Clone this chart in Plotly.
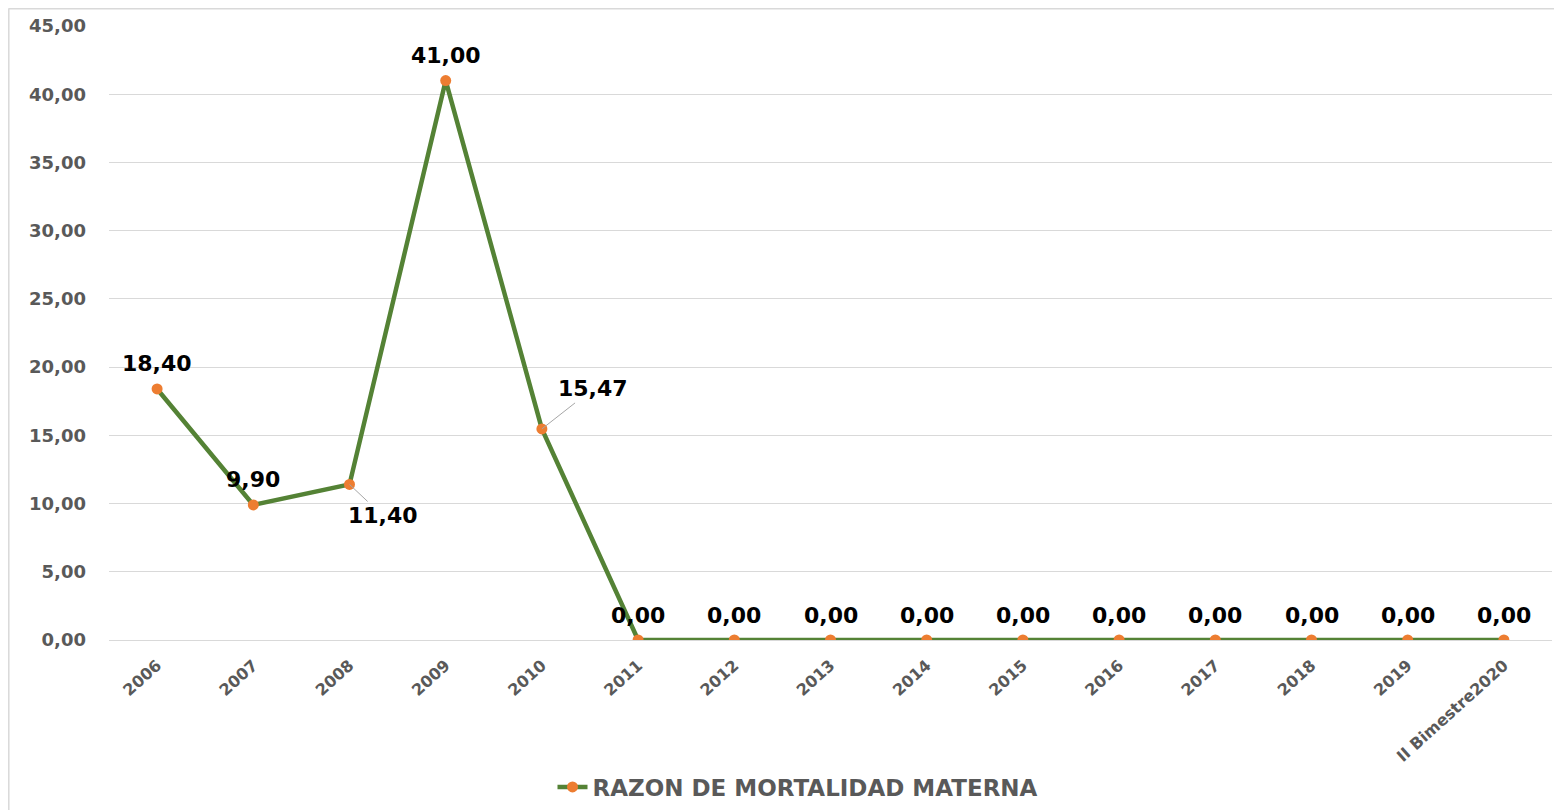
import plotly.graph_objects as go

categories = ["2006", "2007", "2008", "2009", "2010", "2011", "2012", "2013",
              "2014", "2015", "2016", "2017", "2018", "2019", "II Bimestre2020"]
values = [18.40, 9.90, 11.40, 41.00, 15.47, 0, 0, 0, 0, 0, 0, 0, 0, 0, 0]
series_name = "RAZON DE MORTALIDAD MATERNA"
y_ticks = [0, 5, 10, 15, 20, 25, 30, 35, 40, 45]

# label offsets (px) for labels with leader lines
label_offsets = {2: (33, 31), 4: (51, -40)}

FONT = "DejaVu Sans"
W, H = 1554, 802
ML, MR, MT, MB = 101, 10, 18, 170
PW, PH = W - ML - MR, H - MT - MB

fig = go.Figure()
fig.add_trace(go.Scatter(
    x=categories, y=values, mode="lines+markers", name=series_name,
    line=dict(color="#548235", width=4.5),
    marker=dict(color="#ED7D31", size=11),
))

def fmt(v):
    return f"{v:.2f}".replace(".", ",")

for i, v in enumerate(values):
    font = dict(family=FONT, size=22, color="black", weight="bold")
    if i in label_offsets:
        dx, dy = label_offsets[i]
        fig.add_annotation(x=i, y=v, text=fmt(v), showarrow=True, arrowhead=0,
                           arrowwidth=1, arrowcolor="#A6A6A6", ax=dx, ay=dy,
                           standoff=0, font=font)
    else:
        fig.add_annotation(x=i, y=v, text=fmt(v), showarrow=False, yshift=25, font=font)

def px(xp):
    return (xp - ML) / PW

def py(yp):
    return (H - MB - yp) / PH

border = dict(color="#D9D9D9", width=1.5)
fig.add_shape(type="line", xref="paper", yref="paper", x0=px(0.5), x1=px(W),
              y0=py(0.8), y1=py(0.8), line=border)
fig.add_shape(type="line", xref="paper", yref="paper", x0=px(0.8), x1=px(0.8),
              y0=py(0.5), y1=py(H), line=border)

fig.update_layout(
    width=W, height=H,
    margin=dict(l=ML, r=MR, t=MT, b=MB, autoexpand=False),
    paper_bgcolor="white", plot_bgcolor="white",
    separators=",.",
    showlegend=True,
    legend=dict(orientation="h", x=px(790), xanchor="center",
                yref="container", y=1 - 779 / H, yanchor="middle",
                font=dict(family=FONT, size=23, color="#595959", weight="bold")),
    xaxis=dict(type="category", tickangle=-42, showgrid=False, showline=False,
               ticks="", ticklabelstandoff=12, automargin=False,
               tickfont=dict(family=FONT, size=16, color="#595959", weight="bold"),
               range=[-0.5, len(categories) - 0.5]),
    yaxis=dict(range=[0, 45], tickvals=y_ticks, tickformat=".2f",
               showgrid=True, gridcolor="#D9D9D9", gridwidth=1,
               zeroline=True, zerolinecolor="#D9D9D9", zerolinewidth=1,
               showline=False, ticks="", ticklabelstandoff=22, automargin=False,
               tickfont=dict(family=FONT, size=18, color="#595959", weight="bold")),
)

fig.write_html("out.html")
